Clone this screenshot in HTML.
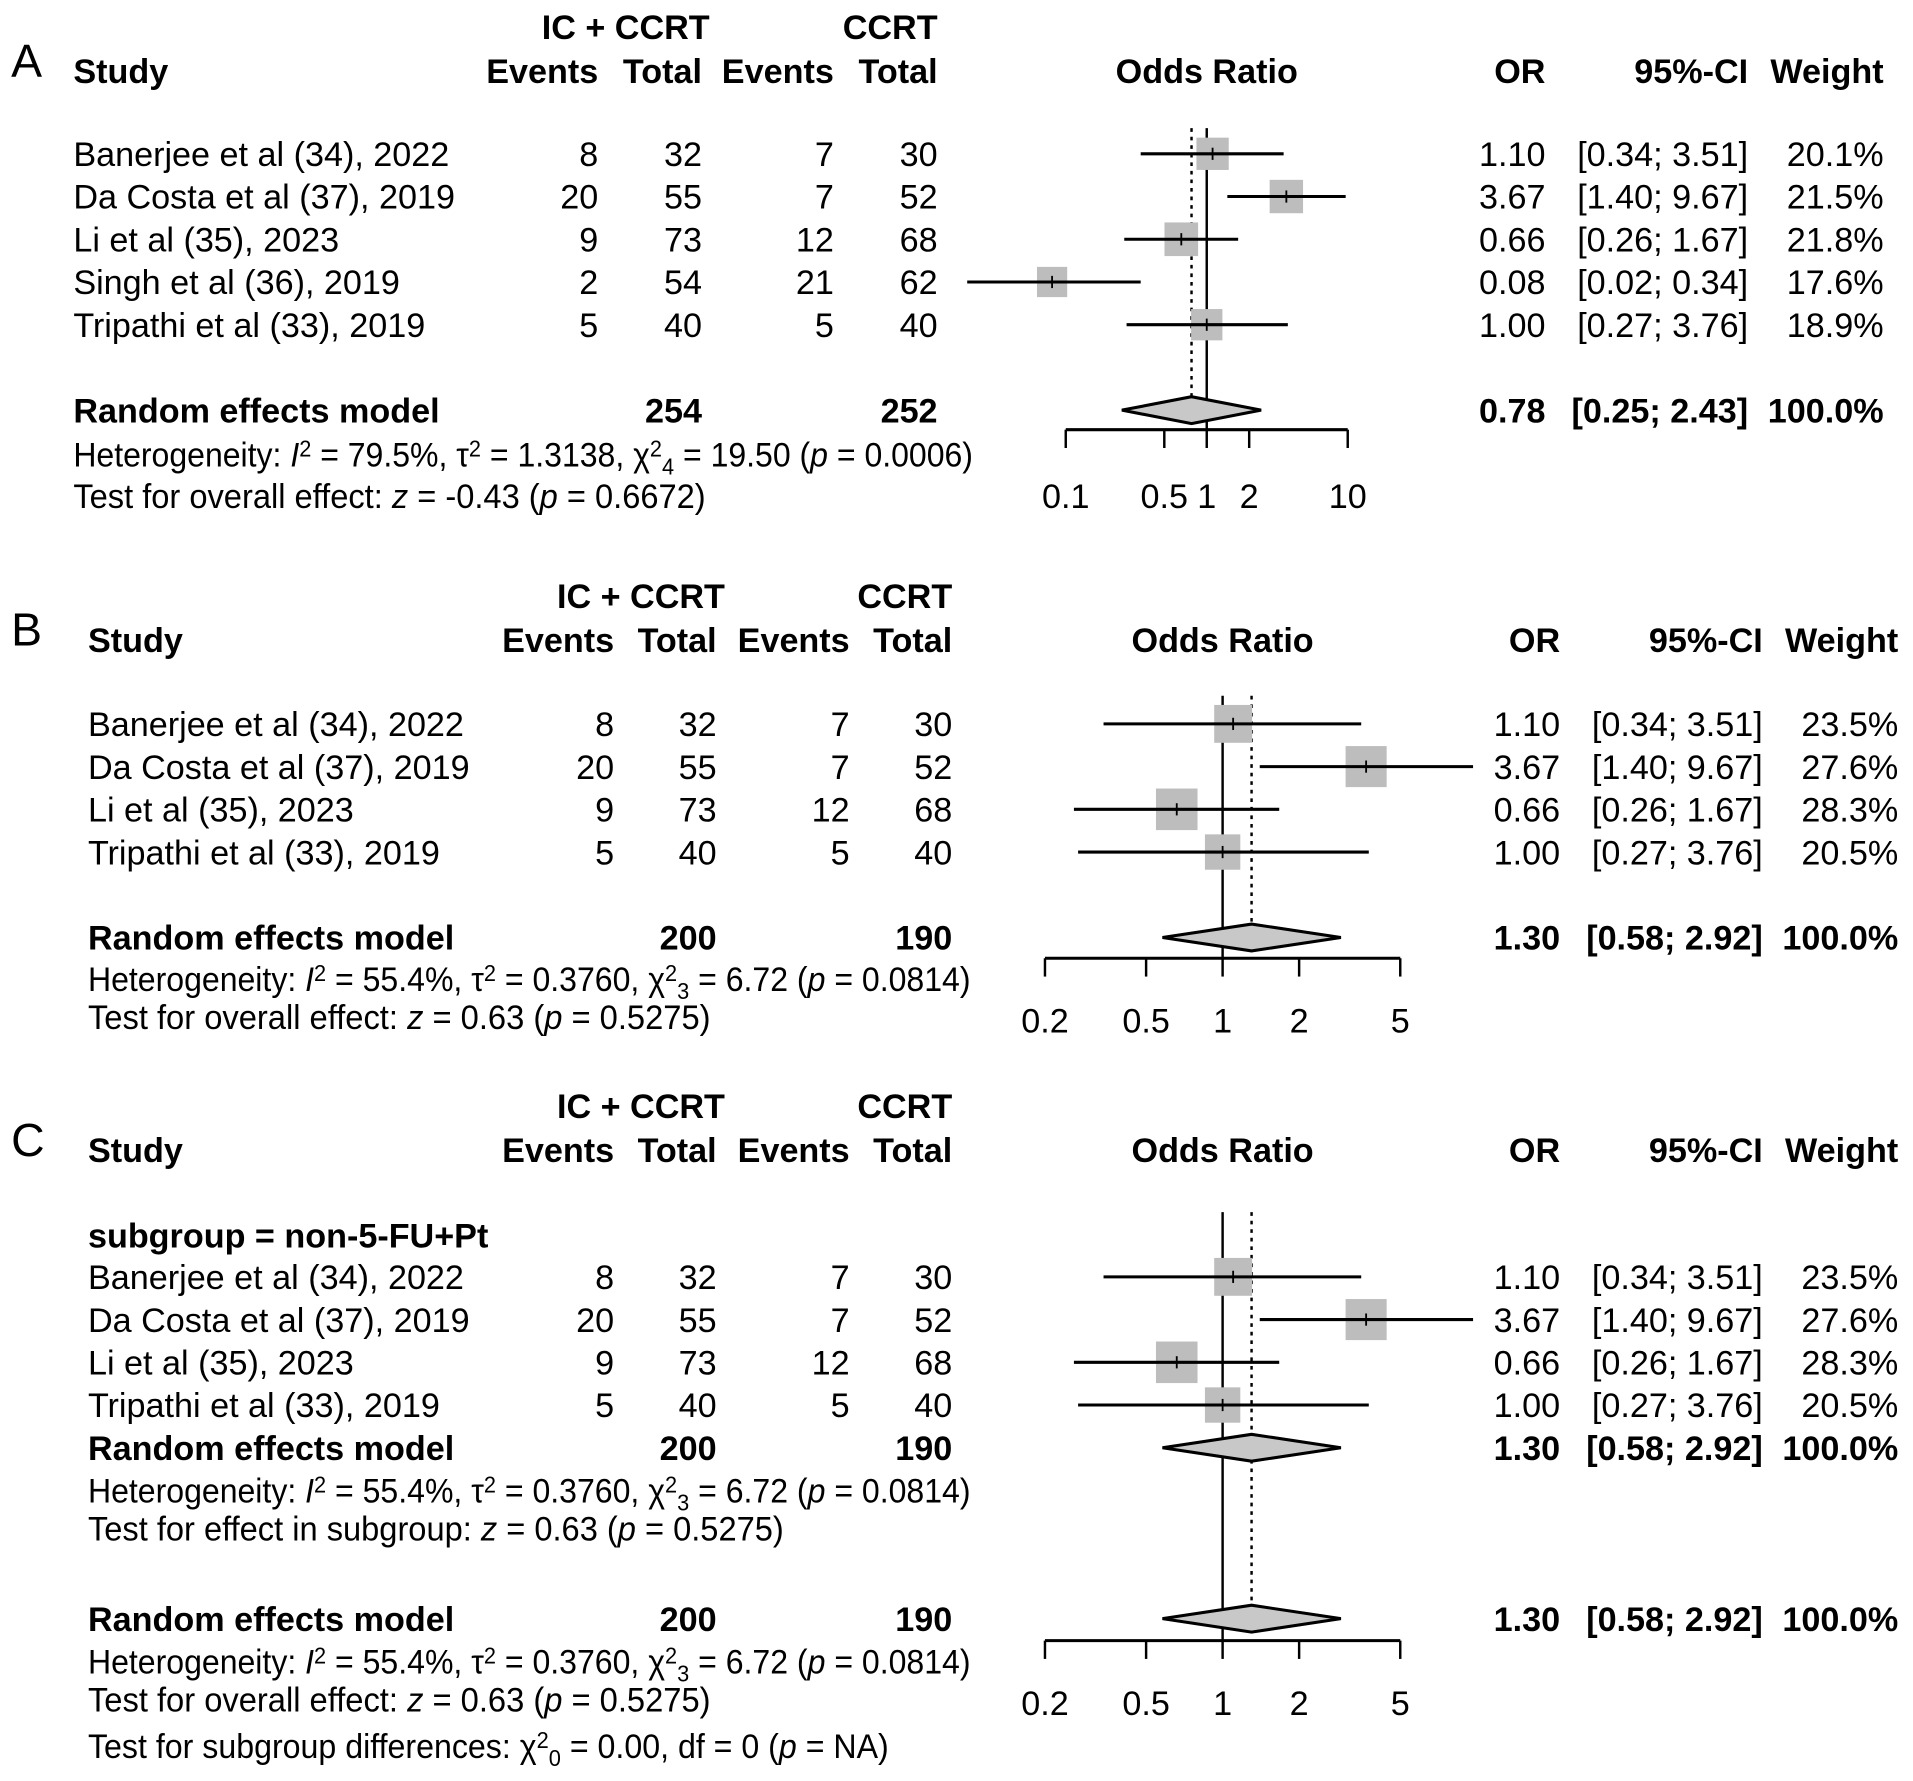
<!DOCTYPE html>
<html><head><meta charset="utf-8"><style>
html,body{margin:0;padding:0;background:#fff}
svg{display:block}
text{font-family:"Liberation Sans",Arial,sans-serif;font-size:28px;fill:#000}
.b{font-weight:bold}
</style></head><body>
<svg id="fig" width="1913" height="1781" viewBox="0 0 1567 1459" xmlns="http://www.w3.org/2000/svg"></svg>
<script>
const studiesA = ["Banerjee et al (34), 2022","Da Costa et al (37), 2019","Li et al (35), 2023","Singh et al (36), 2019","Tripathi et al (33), 2019"];
const evTrtA = [8,20,9,2,5];
const totTrtA = [32,55,73,54,40];
const evCtlA = [7,7,12,21,5];
const totCtlA = [30,52,68,62,40];
const orA = [1.10,3.67,0.66,0.08,1.00];
const loA = [0.34,1.40,0.26,0.02,0.27];
const hiA = [3.51,9.67,1.67,0.34,3.76];
const wA = [20.1,21.5,21.8,17.6,18.9];
const pooledA = [0.78,0.25,2.43];
const ticksA = [0.1,0.5,1,2,10];

const studiesB = ["Banerjee et al (34), 2022","Da Costa et al (37), 2019","Li et al (35), 2023","Tripathi et al (33), 2019"];
const evTrtB = [8,20,9,5];
const totTrtB = [32,55,73,40];
const evCtlB = [7,7,12,5];
const totCtlB = [30,52,68,40];
const orB = [1.10,3.67,0.66,1.00];
const loB = [0.34,1.40,0.26,0.27];
const hiB = [3.51,9.67,1.67,3.76];
const wB = [23.5,27.6,28.3,20.5];
const pooledB = [1.30,0.58,2.92];
const ticksB = [0.2,0.5,1,2,5];

const NS='http://www.w3.org/2000/svg';
const svg=document.getElementById('fig');
function el(tag,attrs,parent){const e=document.createElementNS(NS,tag);for(const k in attrs)e.setAttribute(k,attrs[k]);(parent||svg).appendChild(e);return e;}
function txt(s,x,y,anchor,cls,parent){const t=el('text',{x:x,y:y,'text-anchor':anchor||'start'},parent);if(cls)t.setAttribute('class',cls);t.textContent=s;return t;}
function rich(parts,x,y,len,parent){
  const t=el('text',{x:x,y:y,textLength:len,lengthAdjust:'spacingAndGlyphs'},parent);
  parts.forEach(p=>{const s=el('tspan',{},t);s.textContent=p[0];
    if(p[1]==='i')s.setAttribute('font-style','italic');
    if(p[1]==='sup'){s.setAttribute('baseline-shift','45%');s.setAttribute('font-size','19');}
    if(p[1]==='sub'){s.setAttribute('baseline-shift','-35%');s.setAttribute('font-size','19');}
  });return t;}
function fmt2(v){return v.toFixed(2);}

function panel(cfg){
  const g=el('g',{});
  
  
  const c=cfg.cols, ox=cfg.ox;
  const lab=txt(cfg.letter,9,cfg.hy2-5,'start','',g);lab.setAttribute('style','font-size:38px');
  
  const th=txt('IC + CCRT',(c.t1+c.e1)/2 - 20,cfg.hy1,'middle','b',g);
  
  
  const ch=txt('CCRT',c.t2,cfg.hy1,'end','b',g);
  
  
  const h=[['Study',ox,'start'],['Events',c.e1,'end'],['Total',c.t1,'end'],['Events',c.e2,'end'],['Total',c.t2,'end'],['Odds Ratio',cfg.xc,'middle'],['OR',c.or,'end'],['95%-CI',c.ci,'end'],['Weight',c.w,'end']];
  h.forEach(a=>{const t=txt(a[0],a[1],cfg.hy2,a[2],'b',g);});
  const lg=Math.log10;
  const X=v=>cfg.xc+cfg.k*lg(v);
  const rl=el('line',{x1:X(1),x2:X(1),y1:cfg.vTop,y2:cfg.axisY,stroke:'#000','stroke-width':2},g);
  
  const dl=el('line',{x1:X(cfg.pooled[0]),x2:X(cfg.pooled[0]),y1:cfg.vTop,y2:cfg.dTop,stroke:'#000','stroke-width':2,'stroke-dasharray':'3,4'},g);
  
  if(cfg.sub){const s=txt('subgroup = non-5-FU+Pt',ox,cfg.sub,'start','b',g);}
  cfg.studies.forEach((s,i)=>{
    const y=cfg.rowY+i*35, cy=y-10;
    const row=el('g',{},g);
    
    
    txt(s,ox,y,'start','',row);
    txt(String(cfg.ev1[i]),c.e1,y,'end','',row);
    txt(String(cfg.tot1[i]),c.t1,y,'end','',row);
    txt(String(cfg.ev2[i]),c.e2,y,'end','',row);
    txt(String(cfg.tot2[i]),c.t2,y,'end','',row);
    const side=cfg.sq*Math.sqrt(cfg.w[i]);
    const sq=el('rect',{x:X(cfg.or[i])-side/2,y:cy-side/2,width:side,height:side,fill:'#bdbdbd'},row);
    
    const ln=el('line',{x1:X(cfg.lo[i]),x2:X(cfg.hi[i]),y1:cy,y2:cy,stroke:'#000','stroke-width':2.5},row);
    
    el('line',{x1:X(cfg.or[i]),x2:X(cfg.or[i]),y1:cy-5,y2:cy+5,stroke:'#000','stroke-width':1.5},row);
    txt(fmt2(cfg.or[i]),c.or,y,'end','',row);
    txt('['+fmt2(cfg.lo[i])+'; '+fmt2(cfg.hi[i])+']',c.ci,y,'end','',row);
    txt(cfg.w[i].toFixed(1)+'%',c.w,y,'end','',row);
  });
  cfg.rems.forEach(r=>{
    const y=r.y, cy=y-10;
    const row=el('g',{},g);
    
    
    txt('Random effects model',ox,y,'start','b',row);
    txt(String(cfg.tot1.reduce((a,b)=>a+b,0)),c.t1,y,'end','b',row);
    txt(String(cfg.tot2.reduce((a,b)=>a+b,0)),c.t2,y,'end','b',row);
    const p=cfg.pooled;
    const d=el('polygon',{points:`${X(p[1])},${cy} ${X(p[0])},${cy-11} ${X(p[2])},${cy} ${X(p[0])},${cy+11}`,fill:'#c8c8c8',stroke:'#000','stroke-width':2.5},row);
    
    txt(fmt2(p[0]),c.or,y,'end','b',row);
    txt('['+fmt2(p[1])+'; '+fmt2(p[2])+']',c.ci,y,'end','b',row);
    txt('100.0%',c.w,y,'end','b',row);
  });
  cfg.notes.forEach(n=>{const t=rich(n.parts,ox,n.y,n.len,g);});
  const ax=el('g',{},g);
  
  
  const t0=cfg.ticks[0],t1=cfg.ticks[cfg.ticks.length-1];
  el('line',{x1:X(t0),x2:X(t1),y1:cfg.axisY,y2:cfg.axisY,stroke:'#000','stroke-width':2.5},ax);
  cfg.ticks.forEach(v=>{
    el('line',{x1:X(v),x2:X(v),y1:cfg.axisY,y2:cfg.axisY+15,stroke:'#000','stroke-width':2},ax);
    const t=txt(String(v),X(v),cfg.tickY,'middle','',ax);
    
    
  });
}
const hetParts=(I,tau,df,chi,p)=>[['Heterogeneity: '],['I','i'],['2','sup'],[' = '+I+'%, τ'],['2','sup'],[' = '+tau+', χ'],['2','sup'],[df,'sub'],[' = '+chi+' ('],['p','i'],[' = '+p+')']];
const colsA={e1:490,t1:575,e2:683,t2:768,or:1266,ci:1432,w:1543};
const colsB={e1:503,t1:587,e2:696,t2:780,or:1278,ci:1444,w:1555};
panel({name:'panel-a',letter:'A',ox:60,cols:colsA,hy1:32,hy2:68,xc:988.5,k:115.5,studies:studiesA,ev1:evTrtA,tot1:totTrtA,ev2:evCtlA,tot2:totCtlA,or:orA,lo:loA,hi:hiA,w:wA,pooled:pooledA,ticks:ticksA,sq:5.9,rowY:136,vTop:105,dTop:325,axisY:352,tickY:416,
  rems:[{y:346}],
  notes:[{name:'heterogeneity-text',y:382,len:737,parts:hetParts('79.5','1.3138','4','19.50','0.0006')},
         {name:'overall-effect-text',y:416,len:518,parts:[['Test for overall effect: '],['z','i'],[' = -0.43 ('],['p','i'],[' = 0.6672)']]}]});
panel({name:'panel-b',letter:'B',ox:72,cols:colsB,hy1:498,hy2:534,xc:1001.5,k:208.2,studies:studiesB,ev1:evTrtB,tot1:totTrtB,ev2:evCtlB,tot2:totCtlB,or:orB,lo:loB,hi:hiB,w:wB,pooled:pooledB,ticks:ticksB,sq:6.4,rowY:603,vTop:570,dTop:757,axisY:785,tickY:846,
  rems:[{y:778}],
  notes:[{name:'heterogeneity-text',y:812,len:723,parts:hetParts('55.4','0.3760','3','6.72','0.0814')},
         {name:'overall-effect-text',y:843,len:510,parts:[['Test for overall effect: '],['z','i'],[' = 0.63 ('],['p','i'],[' = 0.5275)']]}]});
panel({name:'panel-c',letter:'C',ox:72,cols:colsB,hy1:916,hy2:952,xc:1001.5,k:208.2,studies:studiesB,ev1:evTrtB,tot1:totTrtB,ev2:evCtlB,tot2:totCtlB,or:orB,lo:loB,hi:hiB,w:wB,pooled:pooledB,ticks:ticksB,sq:6.4,rowY:1056,sub:1022,vTop:993,dTop:1315,axisY:1344,tickY:1405,
  rems:[{y:1196},{y:1336}],
  notes:[{name:'subgroup-heterogeneity-text',y:1231,len:723,parts:hetParts('55.4','0.3760','3','6.72','0.0814')},
         {name:'subgroup-effect-text',y:1262,len:570,parts:[['Test for effect in subgroup: '],['z','i'],[' = 0.63 ('],['p','i'],[' = 0.5275)']]},
         {name:'heterogeneity-text',y:1371,len:723,parts:hetParts('55.4','0.3760','3','6.72','0.0814')},
         {name:'overall-effect-text',y:1402,len:510,parts:[['Test for overall effect: '],['z','i'],[' = 0.63 ('],['p','i'],[' = 0.5275)']]},
         {name:'subgroup-differences-text',y:1440,len:656,parts:[['Test for subgroup differences: χ'],['2','sup'],['0','sub'],[' = 0.00, df = 0 ('],['p','i'],[' = NA)']]}]});
</script>
</body></html>
